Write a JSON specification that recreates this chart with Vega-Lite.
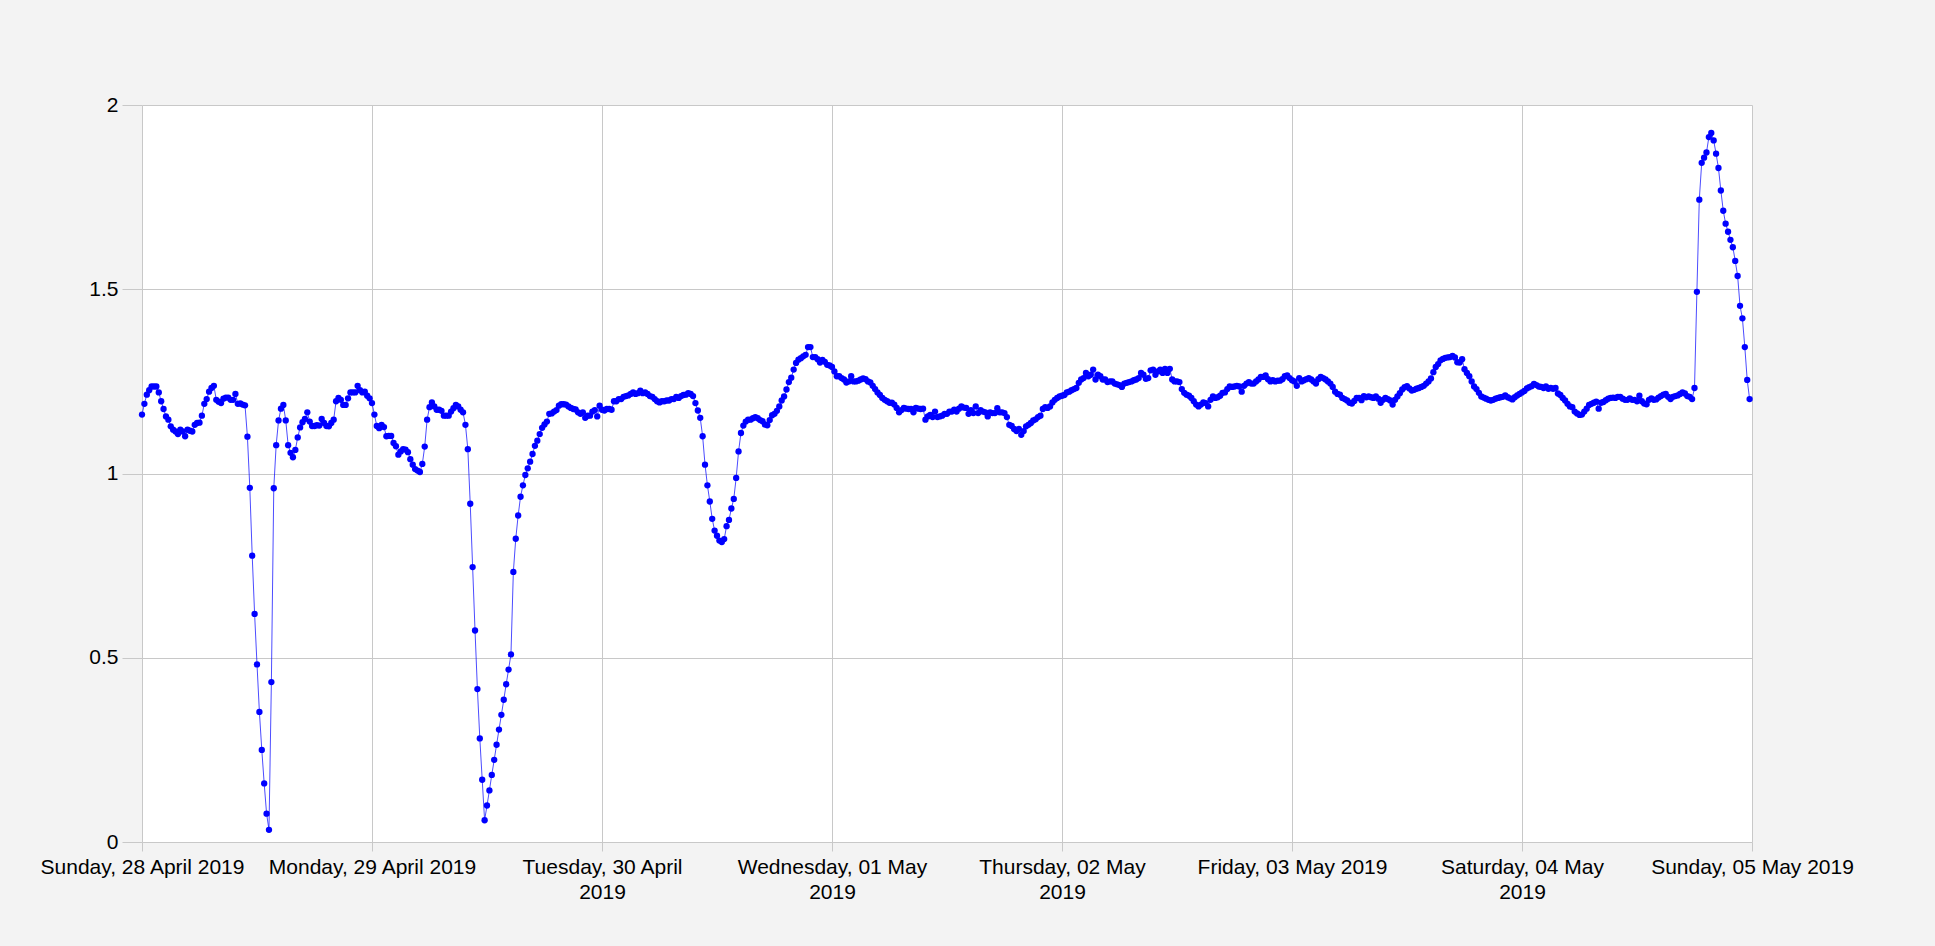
{
"$schema": "https://vega.github.io/schema/vega-lite/v6.json",
"width": 1610, "height": 737,
"autosize": {"type": "none"},
"padding": {"left": 142, "top": 105, "right": 183, "bottom": 104},
"background": "#f3f3f3",
"config": {"view": {"fill": "#ffffff", "stroke": null}, "font": "Liberation Sans"},
"data": {"values": [
{"t":"2019-04-28T00:00","v":1.16},{"t":"2019-04-28T00:15","v":1.189},{"t":"2019-04-28T00:30","v":1.214},{"t":"2019-04-28T00:45","v":1.226},
{"t":"2019-04-28T01:00","v":1.236},{"t":"2019-04-28T01:15","v":1.236},{"t":"2019-04-28T01:30","v":1.236},{"t":"2019-04-28T01:45","v":1.22},
{"t":"2019-04-28T02:00","v":1.196},{"t":"2019-04-28T02:15","v":1.175},{"t":"2019-04-28T02:30","v":1.155},{"t":"2019-04-28T02:45","v":1.146},
{"t":"2019-04-28T03:00","v":1.128},{"t":"2019-04-28T03:15","v":1.119},{"t":"2019-04-28T03:30","v":1.114},{"t":"2019-04-28T03:45","v":1.107},
{"t":"2019-04-28T04:00","v":1.119},{"t":"2019-04-28T04:15","v":1.114},{"t":"2019-04-28T04:30","v":1.101},{"t":"2019-04-28T04:45","v":1.119},
{"t":"2019-04-28T05:00","v":1.116},{"t":"2019-04-28T05:15","v":1.114},{"t":"2019-04-28T05:30","v":1.132},{"t":"2019-04-28T05:45","v":1.137},
{"t":"2019-04-28T06:00","v":1.138},{"t":"2019-04-28T06:15","v":1.157},{"t":"2019-04-28T06:30","v":1.189},{"t":"2019-04-28T06:45","v":1.202},
{"t":"2019-04-28T07:00","v":1.222},{"t":"2019-04-28T07:15","v":1.232},{"t":"2019-04-28T07:30","v":1.238},{"t":"2019-04-28T07:45","v":1.2},
{"t":"2019-04-28T08:00","v":1.195},{"t":"2019-04-28T08:15","v":1.191},{"t":"2019-04-28T08:30","v":1.203},{"t":"2019-04-28T08:45","v":1.206},
{"t":"2019-04-28T09:00","v":1.206},{"t":"2019-04-28T09:15","v":1.2},{"t":"2019-04-28T09:30","v":1.2},{"t":"2019-04-28T09:45","v":1.216},
{"t":"2019-04-28T10:00","v":1.189},{"t":"2019-04-28T10:15","v":1.19},{"t":"2019-04-28T10:30","v":1.187},{"t":"2019-04-28T10:45","v":1.185},
{"t":"2019-04-28T11:00","v":1.1},{"t":"2019-04-28T11:15","v":0.961},{"t":"2019-04-28T11:30","v":0.777},{"t":"2019-04-28T11:45","v":0.619},
{"t":"2019-04-28T12:00","v":0.482},{"t":"2019-04-28T12:15","v":0.353},{"t":"2019-04-28T12:30","v":0.25},{"t":"2019-04-28T12:45","v":0.159},
{"t":"2019-04-28T13:00","v":0.077},{"t":"2019-04-28T13:15","v":0.033},{"t":"2019-04-28T13:30","v":0.434},{"t":"2019-04-28T13:45","v":0.96},
{"t":"2019-04-28T14:00","v":1.077},{"t":"2019-04-28T14:15","v":1.144},{"t":"2019-04-28T14:30","v":1.176},{"t":"2019-04-28T14:45","v":1.186},
{"t":"2019-04-28T15:00","v":1.144},{"t":"2019-04-28T15:15","v":1.077},{"t":"2019-04-28T15:30","v":1.056},{"t":"2019-04-28T15:45","v":1.044},
{"t":"2019-04-28T16:00","v":1.064},{"t":"2019-04-28T16:15","v":1.098},{"t":"2019-04-28T16:30","v":1.125},{"t":"2019-04-28T16:45","v":1.139},
{"t":"2019-04-28T17:00","v":1.148},{"t":"2019-04-28T17:15","v":1.166},{"t":"2019-04-28T17:30","v":1.141},{"t":"2019-04-28T17:45","v":1.129},
{"t":"2019-04-28T18:00","v":1.129},{"t":"2019-04-28T18:15","v":1.131},{"t":"2019-04-28T18:30","v":1.13},{"t":"2019-04-28T18:45","v":1.148},
{"t":"2019-04-28T19:00","v":1.137},{"t":"2019-04-28T19:15","v":1.129},{"t":"2019-04-28T19:30","v":1.128},{"t":"2019-04-28T19:45","v":1.137},
{"t":"2019-04-28T20:00","v":1.146},{"t":"2019-04-28T20:15","v":1.196},{"t":"2019-04-28T20:30","v":1.205},{"t":"2019-04-28T20:45","v":1.2},
{"t":"2019-04-28T21:00","v":1.186},{"t":"2019-04-28T21:15","v":1.186},{"t":"2019-04-28T21:30","v":1.204},{"t":"2019-04-28T21:45","v":1.22},
{"t":"2019-04-28T22:00","v":1.22},{"t":"2019-04-28T22:15","v":1.22},{"t":"2019-04-28T22:30","v":1.238},{"t":"2019-04-28T22:45","v":1.226},
{"t":"2019-04-28T23:00","v":1.22},{"t":"2019-04-28T23:15","v":1.222},{"t":"2019-04-28T23:30","v":1.211},{"t":"2019-04-28T23:45","v":1.204},
{"t":"2019-04-29T00:00","v":1.191},{"t":"2019-04-29T00:15","v":1.16},{"t":"2019-04-29T00:30","v":1.129},{"t":"2019-04-29T00:45","v":1.123},
{"t":"2019-04-29T01:00","v":1.132},{"t":"2019-04-29T01:15","v":1.126},{"t":"2019-04-29T01:30","v":1.101},{"t":"2019-04-29T01:45","v":1.102},
{"t":"2019-04-29T02:00","v":1.102},{"t":"2019-04-29T02:15","v":1.083},{"t":"2019-04-29T02:30","v":1.074},{"t":"2019-04-29T02:45","v":1.051},
{"t":"2019-04-29T03:00","v":1.06},{"t":"2019-04-29T03:15","v":1.066},{"t":"2019-04-29T03:30","v":1.065},{"t":"2019-04-29T03:45","v":1.058},
{"t":"2019-04-29T04:00","v":1.039},{"t":"2019-04-29T04:15","v":1.024},{"t":"2019-04-29T04:30","v":1.012},{"t":"2019-04-29T04:45","v":1.008},
{"t":"2019-04-29T05:00","v":1.004},{"t":"2019-04-29T05:15","v":1.026},{"t":"2019-04-29T05:30","v":1.073},{"t":"2019-04-29T05:45","v":1.146},
{"t":"2019-04-29T06:00","v":1.18},{"t":"2019-04-29T06:15","v":1.193},{"t":"2019-04-29T06:30","v":1.182},{"t":"2019-04-29T06:45","v":1.173},
{"t":"2019-04-29T07:00","v":1.173},{"t":"2019-04-29T07:15","v":1.17},{"t":"2019-04-29T07:30","v":1.157},{"t":"2019-04-29T07:45","v":1.157},
{"t":"2019-04-29T08:00","v":1.157},{"t":"2019-04-29T08:15","v":1.168},{"t":"2019-04-29T08:30","v":1.177},{"t":"2019-04-29T08:45","v":1.186},
{"t":"2019-04-29T09:00","v":1.182},{"t":"2019-04-29T09:15","v":1.173},{"t":"2019-04-29T09:30","v":1.166},{"t":"2019-04-29T09:45","v":1.132},
{"t":"2019-04-29T10:00","v":1.066},{"t":"2019-04-29T10:15","v":0.918},{"t":"2019-04-29T10:30","v":0.746},{"t":"2019-04-29T10:45","v":0.574},
{"t":"2019-04-29T11:00","v":0.415},{"t":"2019-04-29T11:15","v":0.281},{"t":"2019-04-29T11:30","v":0.169},{"t":"2019-04-29T11:45","v":0.059},
{"t":"2019-04-29T12:00","v":0.099},{"t":"2019-04-29T12:15","v":0.14},{"t":"2019-04-29T12:30","v":0.182},{"t":"2019-04-29T12:45","v":0.223},
{"t":"2019-04-29T13:00","v":0.264},{"t":"2019-04-29T13:15","v":0.305},{"t":"2019-04-29T13:30","v":0.345},{"t":"2019-04-29T13:45","v":0.386},
{"t":"2019-04-29T14:00","v":0.428},{"t":"2019-04-29T14:15","v":0.468},{"t":"2019-04-29T14:30","v":0.509},{"t":"2019-04-29T14:45","v":0.733},
{"t":"2019-04-29T15:00","v":0.823},{"t":"2019-04-29T15:15","v":0.886},{"t":"2019-04-29T15:30","v":0.937},{"t":"2019-04-29T15:45","v":0.968},
{"t":"2019-04-29T16:00","v":0.996},{"t":"2019-04-29T16:15","v":1.014},{"t":"2019-04-29T16:30","v":1.032},{"t":"2019-04-29T16:45","v":1.053},
{"t":"2019-04-29T17:00","v":1.075},{"t":"2019-04-29T17:15","v":1.089},{"t":"2019-04-29T17:30","v":1.107},{"t":"2019-04-29T17:45","v":1.124},
{"t":"2019-04-29T18:00","v":1.133},{"t":"2019-04-29T18:15","v":1.141},{"t":"2019-04-29T18:30","v":1.162},{"t":"2019-04-29T18:45","v":1.163},
{"t":"2019-04-29T19:00","v":1.168},{"t":"2019-04-29T19:15","v":1.172},{"t":"2019-04-29T19:30","v":1.184},{"t":"2019-04-29T19:45","v":1.188},
{"t":"2019-04-29T20:00","v":1.188},{"t":"2019-04-29T20:15","v":1.187},{"t":"2019-04-29T20:30","v":1.182},{"t":"2019-04-29T20:45","v":1.178},
{"t":"2019-04-29T21:00","v":1.175},{"t":"2019-04-29T21:15","v":1.174},{"t":"2019-04-29T21:30","v":1.166},{"t":"2019-04-29T21:45","v":1.162},
{"t":"2019-04-29T22:00","v":1.166},{"t":"2019-04-29T22:15","v":1.151},{"t":"2019-04-29T22:30","v":1.157},{"t":"2019-04-29T22:45","v":1.157},
{"t":"2019-04-29T23:00","v":1.168},{"t":"2019-04-29T23:15","v":1.172},{"t":"2019-04-29T23:30","v":1.155},{"t":"2019-04-29T23:45","v":1.184},
{"t":"2019-04-30T00:00","v":1.173},{"t":"2019-04-30T00:15","v":1.171},{"t":"2019-04-30T00:30","v":1.175},{"t":"2019-04-30T00:45","v":1.175},
{"t":"2019-04-30T01:00","v":1.173},{"t":"2019-04-30T01:15","v":1.196},{"t":"2019-04-30T01:30","v":1.196},{"t":"2019-04-30T01:45","v":1.202},
{"t":"2019-04-30T02:00","v":1.202},{"t":"2019-04-30T02:15","v":1.208},{"t":"2019-04-30T02:30","v":1.21},{"t":"2019-04-30T02:45","v":1.212},
{"t":"2019-04-30T03:00","v":1.216},{"t":"2019-04-30T03:15","v":1.22},{"t":"2019-04-30T03:30","v":1.216},{"t":"2019-04-30T03:45","v":1.218},
{"t":"2019-04-30T04:00","v":1.225},{"t":"2019-04-30T04:15","v":1.218},{"t":"2019-04-30T04:30","v":1.22},{"t":"2019-04-30T04:45","v":1.216},
{"t":"2019-04-30T05:00","v":1.21},{"t":"2019-04-30T05:15","v":1.208},{"t":"2019-04-30T05:30","v":1.202},{"t":"2019-04-30T05:45","v":1.196},
{"t":"2019-04-30T06:00","v":1.193},{"t":"2019-04-30T06:15","v":1.196},{"t":"2019-04-30T06:30","v":1.196},{"t":"2019-04-30T06:45","v":1.198},
{"t":"2019-04-30T07:00","v":1.198},{"t":"2019-04-30T07:15","v":1.202},{"t":"2019-04-30T07:30","v":1.202},{"t":"2019-04-30T07:45","v":1.208},
{"t":"2019-04-30T08:00","v":1.205},{"t":"2019-04-30T08:15","v":1.21},{"t":"2019-04-30T08:30","v":1.213},{"t":"2019-04-30T08:45","v":1.214},
{"t":"2019-04-30T09:00","v":1.218},{"t":"2019-04-30T09:15","v":1.216},{"t":"2019-04-30T09:30","v":1.21},{"t":"2019-04-30T09:45","v":1.191},
{"t":"2019-04-30T10:00","v":1.171},{"t":"2019-04-30T10:15","v":1.151},{"t":"2019-04-30T10:30","v":1.101},{"t":"2019-04-30T10:45","v":1.024},
{"t":"2019-04-30T11:00","v":0.968},{"t":"2019-04-30T11:15","v":0.924},{"t":"2019-04-30T11:30","v":0.877},{"t":"2019-04-30T11:45","v":0.845},
{"t":"2019-04-30T12:00","v":0.831},{"t":"2019-04-30T12:15","v":0.818},{"t":"2019-04-30T12:30","v":0.814},{"t":"2019-04-30T12:45","v":0.822},
{"t":"2019-04-30T13:00","v":0.857},{"t":"2019-04-30T13:15","v":0.874},{"t":"2019-04-30T13:30","v":0.905},{"t":"2019-04-30T13:45","v":0.931},
{"t":"2019-04-30T14:00","v":0.988},{"t":"2019-04-30T14:15","v":1.06},{"t":"2019-04-30T14:30","v":1.11},{"t":"2019-04-30T14:45","v":1.13},
{"t":"2019-04-30T15:00","v":1.141},{"t":"2019-04-30T15:15","v":1.146},{"t":"2019-04-30T15:30","v":1.146},{"t":"2019-04-30T15:45","v":1.15},
{"t":"2019-04-30T16:00","v":1.153},{"t":"2019-04-30T16:15","v":1.15},{"t":"2019-04-30T16:30","v":1.145},{"t":"2019-04-30T16:45","v":1.142},
{"t":"2019-04-30T17:00","v":1.133},{"t":"2019-04-30T17:15","v":1.131},{"t":"2019-04-30T17:30","v":1.145},{"t":"2019-04-30T17:45","v":1.158},
{"t":"2019-04-30T18:00","v":1.162},{"t":"2019-04-30T18:15","v":1.17},{"t":"2019-04-30T18:30","v":1.182},{"t":"2019-04-30T18:45","v":1.198},
{"t":"2019-04-30T19:00","v":1.209},{"t":"2019-04-30T19:15","v":1.228},{"t":"2019-04-30T19:30","v":1.248},{"t":"2019-04-30T19:45","v":1.26},
{"t":"2019-04-30T20:00","v":1.282},{"t":"2019-04-30T20:15","v":1.3},{"t":"2019-04-30T20:30","v":1.309},{"t":"2019-04-30T20:45","v":1.313},
{"t":"2019-04-30T21:00","v":1.318},{"t":"2019-04-30T21:15","v":1.322},{"t":"2019-04-30T21:30","v":1.343},{"t":"2019-04-30T21:45","v":1.343},
{"t":"2019-04-30T22:00","v":1.316},{"t":"2019-04-30T22:15","v":1.316},{"t":"2019-04-30T22:30","v":1.31},{"t":"2019-04-30T22:45","v":1.301},
{"t":"2019-04-30T23:00","v":1.308},{"t":"2019-04-30T23:15","v":1.303},{"t":"2019-04-30T23:30","v":1.295},{"t":"2019-04-30T23:45","v":1.293},
{"t":"2019-05-01T00:00","v":1.289},{"t":"2019-05-01T00:15","v":1.277},{"t":"2019-05-01T00:30","v":1.264},{"t":"2019-05-01T00:45","v":1.264},
{"t":"2019-05-01T01:00","v":1.259},{"t":"2019-05-01T01:15","v":1.255},{"t":"2019-05-01T01:30","v":1.247},{"t":"2019-05-01T01:45","v":1.25},
{"t":"2019-05-01T02:00","v":1.264},{"t":"2019-05-01T02:15","v":1.25},{"t":"2019-05-01T02:30","v":1.25},{"t":"2019-05-01T02:45","v":1.252},
{"t":"2019-05-01T03:00","v":1.255},{"t":"2019-05-01T03:15","v":1.258},{"t":"2019-05-01T03:30","v":1.256},{"t":"2019-05-01T03:45","v":1.25},
{"t":"2019-05-01T04:00","v":1.247},{"t":"2019-05-01T04:15","v":1.238},{"t":"2019-05-01T04:30","v":1.229},{"t":"2019-05-01T04:45","v":1.22},
{"t":"2019-05-01T05:00","v":1.213},{"t":"2019-05-01T05:15","v":1.205},{"t":"2019-05-01T05:30","v":1.2},{"t":"2019-05-01T05:45","v":1.196},
{"t":"2019-05-01T06:00","v":1.192},{"t":"2019-05-01T06:15","v":1.192},{"t":"2019-05-01T06:30","v":1.187},{"t":"2019-05-01T06:45","v":1.178},
{"t":"2019-05-01T07:00","v":1.166},{"t":"2019-05-01T07:15","v":1.172},{"t":"2019-05-01T07:30","v":1.178},{"t":"2019-05-01T07:45","v":1.176},
{"t":"2019-05-01T08:00","v":1.175},{"t":"2019-05-01T08:15","v":1.175},{"t":"2019-05-01T08:30","v":1.166},{"t":"2019-05-01T08:45","v":1.178},
{"t":"2019-05-01T09:00","v":1.176},{"t":"2019-05-01T09:15","v":1.175},{"t":"2019-05-01T09:30","v":1.176},{"t":"2019-05-01T09:45","v":1.146},
{"t":"2019-05-01T10:00","v":1.155},{"t":"2019-05-01T10:15","v":1.159},{"t":"2019-05-01T10:30","v":1.153},{"t":"2019-05-01T10:45","v":1.168},
{"t":"2019-05-01T11:00","v":1.153},{"t":"2019-05-01T11:15","v":1.155},{"t":"2019-05-01T11:30","v":1.157},{"t":"2019-05-01T11:45","v":1.162},
{"t":"2019-05-01T12:00","v":1.162},{"t":"2019-05-01T12:15","v":1.168},{"t":"2019-05-01T12:30","v":1.168},{"t":"2019-05-01T12:45","v":1.173},
{"t":"2019-05-01T13:00","v":1.168},{"t":"2019-05-01T13:15","v":1.176},{"t":"2019-05-01T13:30","v":1.182},{"t":"2019-05-01T13:45","v":1.179},
{"t":"2019-05-01T14:00","v":1.178},{"t":"2019-05-01T14:15","v":1.162},{"t":"2019-05-01T14:30","v":1.172},{"t":"2019-05-01T14:45","v":1.164},
{"t":"2019-05-01T15:00","v":1.182},{"t":"2019-05-01T15:15","v":1.164},{"t":"2019-05-01T15:30","v":1.172},{"t":"2019-05-01T15:45","v":1.168},
{"t":"2019-05-01T16:00","v":1.166},{"t":"2019-05-01T16:15","v":1.155},{"t":"2019-05-01T16:30","v":1.166},{"t":"2019-05-01T16:45","v":1.164},
{"t":"2019-05-01T17:00","v":1.164},{"t":"2019-05-01T17:15","v":1.177},{"t":"2019-05-01T17:30","v":1.166},{"t":"2019-05-01T17:45","v":1.166},
{"t":"2019-05-01T18:00","v":1.164},{"t":"2019-05-01T18:15","v":1.153},{"t":"2019-05-01T18:30","v":1.132},{"t":"2019-05-01T18:45","v":1.129},
{"t":"2019-05-01T19:00","v":1.121},{"t":"2019-05-01T19:15","v":1.115},{"t":"2019-05-01T19:30","v":1.121},{"t":"2019-05-01T19:45","v":1.105},
{"t":"2019-05-01T20:00","v":1.115},{"t":"2019-05-01T20:15","v":1.128},{"t":"2019-05-01T20:30","v":1.132},{"t":"2019-05-01T20:45","v":1.137},
{"t":"2019-05-01T21:00","v":1.144},{"t":"2019-05-01T21:15","v":1.147},{"t":"2019-05-01T21:30","v":1.153},{"t":"2019-05-01T21:45","v":1.157},
{"t":"2019-05-01T22:00","v":1.175},{"t":"2019-05-01T22:15","v":1.18},{"t":"2019-05-01T22:30","v":1.178},{"t":"2019-05-01T22:45","v":1.182},
{"t":"2019-05-01T23:00","v":1.193},{"t":"2019-05-01T23:15","v":1.2},{"t":"2019-05-01T23:30","v":1.205},{"t":"2019-05-01T23:45","v":1.209},
{"t":"2019-05-02T00:00","v":1.211},{"t":"2019-05-02T00:15","v":1.213},{"t":"2019-05-02T00:30","v":1.22},{"t":"2019-05-02T00:45","v":1.222},
{"t":"2019-05-02T01:00","v":1.226},{"t":"2019-05-02T01:15","v":1.229},{"t":"2019-05-02T01:30","v":1.232},{"t":"2019-05-02T01:45","v":1.246},
{"t":"2019-05-02T02:00","v":1.255},{"t":"2019-05-02T02:15","v":1.259},{"t":"2019-05-02T02:30","v":1.273},{"t":"2019-05-02T02:45","v":1.264},
{"t":"2019-05-02T03:00","v":1.268},{"t":"2019-05-02T03:15","v":1.282},{"t":"2019-05-02T03:30","v":1.255},{"t":"2019-05-02T03:45","v":1.268},
{"t":"2019-05-02T04:00","v":1.264},{"t":"2019-05-02T04:15","v":1.255},{"t":"2019-05-02T04:30","v":1.255},{"t":"2019-05-02T04:45","v":1.248},
{"t":"2019-05-02T05:00","v":1.25},{"t":"2019-05-02T05:15","v":1.25},{"t":"2019-05-02T05:30","v":1.244},{"t":"2019-05-02T05:45","v":1.242},
{"t":"2019-05-02T06:00","v":1.24},{"t":"2019-05-02T06:15","v":1.235},{"t":"2019-05-02T06:30","v":1.244},{"t":"2019-05-02T06:45","v":1.246},
{"t":"2019-05-02T07:00","v":1.248},{"t":"2019-05-02T07:15","v":1.25},{"t":"2019-05-02T07:30","v":1.253},{"t":"2019-05-02T07:45","v":1.255},
{"t":"2019-05-02T08:00","v":1.259},{"t":"2019-05-02T08:15","v":1.273},{"t":"2019-05-02T08:30","v":1.268},{"t":"2019-05-02T08:45","v":1.257},
{"t":"2019-05-02T09:00","v":1.259},{"t":"2019-05-02T09:15","v":1.28},{"t":"2019-05-02T09:30","v":1.282},{"t":"2019-05-02T09:45","v":1.268},
{"t":"2019-05-02T10:00","v":1.277},{"t":"2019-05-02T10:15","v":1.282},{"t":"2019-05-02T10:30","v":1.273},{"t":"2019-05-02T10:45","v":1.284},
{"t":"2019-05-02T11:00","v":1.273},{"t":"2019-05-02T11:15","v":1.284},{"t":"2019-05-02T11:30","v":1.255},{"t":"2019-05-02T11:45","v":1.25},
{"t":"2019-05-02T12:00","v":1.25},{"t":"2019-05-02T12:15","v":1.248},{"t":"2019-05-02T12:30","v":1.229},{"t":"2019-05-02T12:45","v":1.219},
{"t":"2019-05-02T13:00","v":1.214},{"t":"2019-05-02T13:15","v":1.211},{"t":"2019-05-02T13:30","v":1.205},{"t":"2019-05-02T13:45","v":1.196},
{"t":"2019-05-02T14:00","v":1.187},{"t":"2019-05-02T14:15","v":1.182},{"t":"2019-05-02T14:30","v":1.187},{"t":"2019-05-02T14:45","v":1.193},
{"t":"2019-05-02T15:00","v":1.191},{"t":"2019-05-02T15:15","v":1.182},{"t":"2019-05-02T15:30","v":1.2},{"t":"2019-05-02T15:45","v":1.209},
{"t":"2019-05-02T16:00","v":1.205},{"t":"2019-05-02T16:15","v":1.207},{"t":"2019-05-02T16:30","v":1.211},{"t":"2019-05-02T16:45","v":1.219},
{"t":"2019-05-02T17:00","v":1.22},{"t":"2019-05-02T17:15","v":1.229},{"t":"2019-05-02T17:30","v":1.236},{"t":"2019-05-02T17:45","v":1.235},
{"t":"2019-05-02T18:00","v":1.236},{"t":"2019-05-02T18:15","v":1.238},{"t":"2019-05-02T18:30","v":1.236},{"t":"2019-05-02T18:45","v":1.222},
{"t":"2019-05-02T19:00","v":1.238},{"t":"2019-05-02T19:15","v":1.244},{"t":"2019-05-02T19:30","v":1.248},{"t":"2019-05-02T19:45","v":1.244},
{"t":"2019-05-02T20:00","v":1.244},{"t":"2019-05-02T20:15","v":1.25},{"t":"2019-05-02T20:30","v":1.255},{"t":"2019-05-02T20:45","v":1.262},
{"t":"2019-05-02T21:00","v":1.262},{"t":"2019-05-02T21:15","v":1.266},{"t":"2019-05-02T21:30","v":1.256},{"t":"2019-05-02T21:45","v":1.25},
{"t":"2019-05-02T22:00","v":1.253},{"t":"2019-05-02T22:15","v":1.25},{"t":"2019-05-02T22:30","v":1.252},{"t":"2019-05-02T22:45","v":1.252},
{"t":"2019-05-02T23:00","v":1.256},{"t":"2019-05-02T23:15","v":1.264},{"t":"2019-05-02T23:30","v":1.266},{"t":"2019-05-02T23:45","v":1.259},
{"t":"2019-05-03T00:00","v":1.253},{"t":"2019-05-03T00:15","v":1.25},{"t":"2019-05-03T00:30","v":1.238},{"t":"2019-05-03T00:45","v":1.259},
{"t":"2019-05-03T01:00","v":1.25},{"t":"2019-05-03T01:15","v":1.253},{"t":"2019-05-03T01:30","v":1.256},{"t":"2019-05-03T01:45","v":1.259},
{"t":"2019-05-03T02:00","v":1.255},{"t":"2019-05-03T02:15","v":1.25},{"t":"2019-05-03T02:30","v":1.244},{"t":"2019-05-03T02:45","v":1.256},
{"t":"2019-05-03T03:00","v":1.262},{"t":"2019-05-03T03:15","v":1.259},{"t":"2019-05-03T03:30","v":1.255},{"t":"2019-05-03T03:45","v":1.25},
{"t":"2019-05-03T04:00","v":1.244},{"t":"2019-05-03T04:15","v":1.235},{"t":"2019-05-03T04:30","v":1.222},{"t":"2019-05-03T04:45","v":1.216},
{"t":"2019-05-03T05:00","v":1.214},{"t":"2019-05-03T05:15","v":1.205},{"t":"2019-05-03T05:30","v":1.202},{"t":"2019-05-03T05:45","v":1.198},
{"t":"2019-05-03T06:00","v":1.192},{"t":"2019-05-03T06:15","v":1.19},{"t":"2019-05-03T06:30","v":1.197},{"t":"2019-05-03T06:45","v":1.205},
{"t":"2019-05-03T07:00","v":1.205},{"t":"2019-05-03T07:15","v":1.199},{"t":"2019-05-03T07:30","v":1.21},{"t":"2019-05-03T07:45","v":1.207},
{"t":"2019-05-03T08:00","v":1.209},{"t":"2019-05-03T08:15","v":1.207},{"t":"2019-05-03T08:30","v":1.205},{"t":"2019-05-03T08:45","v":1.209},
{"t":"2019-05-03T09:00","v":1.203},{"t":"2019-05-03T09:15","v":1.192},{"t":"2019-05-03T09:30","v":1.2},{"t":"2019-05-03T09:45","v":1.205},
{"t":"2019-05-03T10:00","v":1.202},{"t":"2019-05-03T10:15","v":1.198},{"t":"2019-05-03T10:30","v":1.187},{"t":"2019-05-03T10:45","v":1.2},
{"t":"2019-05-03T11:00","v":1.209},{"t":"2019-05-03T11:15","v":1.218},{"t":"2019-05-03T11:30","v":1.228},{"t":"2019-05-03T11:45","v":1.234},
{"t":"2019-05-03T12:00","v":1.237},{"t":"2019-05-03T12:15","v":1.231},{"t":"2019-05-03T12:30","v":1.225},{"t":"2019-05-03T12:45","v":1.227},
{"t":"2019-05-03T13:00","v":1.23},{"t":"2019-05-03T13:15","v":1.232},{"t":"2019-05-03T13:30","v":1.235},{"t":"2019-05-03T13:45","v":1.238},
{"t":"2019-05-03T14:00","v":1.244},{"t":"2019-05-03T14:15","v":1.25},{"t":"2019-05-03T14:30","v":1.258},{"t":"2019-05-03T14:45","v":1.275},
{"t":"2019-05-03T15:00","v":1.289},{"t":"2019-05-03T15:15","v":1.297},{"t":"2019-05-03T15:30","v":1.307},{"t":"2019-05-03T15:45","v":1.311},
{"t":"2019-05-03T16:00","v":1.314},{"t":"2019-05-03T16:15","v":1.315},{"t":"2019-05-03T16:30","v":1.316},{"t":"2019-05-03T16:45","v":1.319},
{"t":"2019-05-03T17:00","v":1.315},{"t":"2019-05-03T17:15","v":1.302},{"t":"2019-05-03T17:30","v":1.301},{"t":"2019-05-03T17:45","v":1.31},
{"t":"2019-05-03T18:00","v":1.283},{"t":"2019-05-03T18:15","v":1.273},{"t":"2019-05-03T18:30","v":1.264},{"t":"2019-05-03T18:45","v":1.25},
{"t":"2019-05-03T19:00","v":1.236},{"t":"2019-05-03T19:15","v":1.229},{"t":"2019-05-03T19:30","v":1.219},{"t":"2019-05-03T19:45","v":1.209},
{"t":"2019-05-03T20:00","v":1.206},{"t":"2019-05-03T20:15","v":1.203},{"t":"2019-05-03T20:30","v":1.2},{"t":"2019-05-03T20:45","v":1.198},
{"t":"2019-05-03T21:00","v":1.2},{"t":"2019-05-03T21:15","v":1.203},{"t":"2019-05-03T21:30","v":1.205},{"t":"2019-05-03T21:45","v":1.207},
{"t":"2019-05-03T22:00","v":1.208},{"t":"2019-05-03T22:15","v":1.212},{"t":"2019-05-03T22:30","v":1.207},{"t":"2019-05-03T22:45","v":1.204},
{"t":"2019-05-03T23:00","v":1.201},{"t":"2019-05-03T23:15","v":1.207},{"t":"2019-05-03T23:30","v":1.212},{"t":"2019-05-03T23:45","v":1.216},
{"t":"2019-05-04T00:00","v":1.22},{"t":"2019-05-04T00:15","v":1.224},{"t":"2019-05-04T00:30","v":1.231},{"t":"2019-05-04T00:45","v":1.234},
{"t":"2019-05-04T01:00","v":1.237},{"t":"2019-05-04T01:15","v":1.243},{"t":"2019-05-04T01:30","v":1.24},{"t":"2019-05-04T01:45","v":1.236},
{"t":"2019-05-04T02:00","v":1.235},{"t":"2019-05-04T02:15","v":1.232},{"t":"2019-05-04T02:30","v":1.236},{"t":"2019-05-04T02:45","v":1.23},
{"t":"2019-05-04T03:00","v":1.232},{"t":"2019-05-04T03:15","v":1.23},{"t":"2019-05-04T03:30","v":1.232},{"t":"2019-05-04T03:45","v":1.217},
{"t":"2019-05-04T04:00","v":1.213},{"t":"2019-05-04T04:15","v":1.205},{"t":"2019-05-04T04:30","v":1.198},{"t":"2019-05-04T04:45","v":1.189},
{"t":"2019-05-04T05:00","v":1.182},{"t":"2019-05-04T05:15","v":1.18},{"t":"2019-05-04T05:30","v":1.168},{"t":"2019-05-04T05:45","v":1.163},
{"t":"2019-05-04T06:00","v":1.159},{"t":"2019-05-04T06:15","v":1.16},{"t":"2019-05-04T06:30","v":1.168},{"t":"2019-05-04T06:45","v":1.176},
{"t":"2019-05-04T07:00","v":1.186},{"t":"2019-05-04T07:15","v":1.189},{"t":"2019-05-04T07:30","v":1.192},{"t":"2019-05-04T07:45","v":1.195},
{"t":"2019-05-04T08:00","v":1.176},{"t":"2019-05-04T08:15","v":1.192},{"t":"2019-05-04T08:30","v":1.194},{"t":"2019-05-04T08:45","v":1.199},
{"t":"2019-05-04T09:00","v":1.203},{"t":"2019-05-04T09:15","v":1.205},{"t":"2019-05-04T09:30","v":1.206},{"t":"2019-05-04T09:45","v":1.205},
{"t":"2019-05-04T10:00","v":1.208},{"t":"2019-05-04T10:15","v":1.208},{"t":"2019-05-04T10:30","v":1.203},{"t":"2019-05-04T10:45","v":1.2},
{"t":"2019-05-04T11:00","v":1.2},{"t":"2019-05-04T11:15","v":1.204},{"t":"2019-05-04T11:30","v":1.2},{"t":"2019-05-04T11:45","v":1.2},
{"t":"2019-05-04T12:00","v":1.196},{"t":"2019-05-04T12:15","v":1.211},{"t":"2019-05-04T12:30","v":1.196},{"t":"2019-05-04T12:45","v":1.19},
{"t":"2019-05-04T13:00","v":1.188},{"t":"2019-05-04T13:15","v":1.2},{"t":"2019-05-04T13:30","v":1.204},{"t":"2019-05-04T13:45","v":1.2},
{"t":"2019-05-04T14:00","v":1.201},{"t":"2019-05-04T14:15","v":1.206},{"t":"2019-05-04T14:30","v":1.21},{"t":"2019-05-04T14:45","v":1.214},
{"t":"2019-05-04T15:00","v":1.216},{"t":"2019-05-04T15:15","v":1.208},{"t":"2019-05-04T15:30","v":1.202},{"t":"2019-05-04T15:45","v":1.208},
{"t":"2019-05-04T16:00","v":1.21},{"t":"2019-05-04T16:15","v":1.212},{"t":"2019-05-04T16:30","v":1.216},{"t":"2019-05-04T16:45","v":1.22},
{"t":"2019-05-04T17:00","v":1.217},{"t":"2019-05-04T17:15","v":1.21},{"t":"2019-05-04T17:30","v":1.208},{"t":"2019-05-04T17:45","v":1.202},
{"t":"2019-05-04T18:00","v":1.232},{"t":"2019-05-04T18:15","v":1.493},{"t":"2019-05-04T18:30","v":1.743},{"t":"2019-05-04T18:45","v":1.843},
{"t":"2019-05-04T19:00","v":1.857},{"t":"2019-05-04T19:15","v":1.871},{"t":"2019-05-04T19:30","v":1.913},{"t":"2019-05-04T19:45","v":1.924},
{"t":"2019-05-04T20:00","v":1.904},{"t":"2019-05-04T20:15","v":1.868},{"t":"2019-05-04T20:30","v":1.829},{"t":"2019-05-04T20:45","v":1.768},
{"t":"2019-05-04T21:00","v":1.713},{"t":"2019-05-04T21:15","v":1.678},{"t":"2019-05-04T21:30","v":1.656},{"t":"2019-05-04T21:45","v":1.634},
{"t":"2019-05-04T22:00","v":1.614},{"t":"2019-05-04T22:15","v":1.577},{"t":"2019-05-04T22:30","v":1.536},{"t":"2019-05-04T22:45","v":1.455},
{"t":"2019-05-04T23:00","v":1.421},{"t":"2019-05-04T23:15","v":1.343},{"t":"2019-05-04T23:30","v":1.254},{"t":"2019-05-04T23:45","v":1.202}
]},
"mark": {"type": "line", "color": "#0000ff", "strokeWidth": 1, "strokeOpacity": 0.7,
  "point": {"filled": true, "size": 40, "color": "#0000ff", "opacity": 1}},
"encoding": {
  "x": {"field": "t", "type": "temporal",
    "scale": {"domain": [{"year": 2019, "month": 4, "date": 28}, {"year": 2019, "month": 5, "date": 5}]},
    "axis": {"title": null,
      "values": [{"year": 2019, "month": 4, "date": 28}, {"year": 2019, "month": 4, "date": 29}, {"year": 2019, "month": 4, "date": 30}, {"year": 2019, "month": 5, "date": 1}, {"year": 2019, "month": 5, "date": 2}, {"year": 2019, "month": 5, "date": 3}, {"year": 2019, "month": 5, "date": 4}, {"year": 2019, "month": 5, "date": 5}],
      "labelExpr": "indexof([2,3,4,6], day(datum.value)) >= 0 ? [timeFormat(datum.value, '%A, %d %B'), timeFormat(datum.value, '%Y')] : timeFormat(datum.value, '%A, %d %B %Y')",
      "grid": true, "gridColor": "#c8c8c8", "gridWidth": 1, "gridOpacity": 1,
      "domain": false, "ticks": true, "tickColor": "#c8c8c8", "tickSize": 9, "tickWidth": 1,
      "labelFont": "Liberation Sans", "labelFontSize": 21, "labelColor": "#000000", "labelPadding": 5,
      "labelLineHeight": 25, "labelLimit": 0, "labelOverlap": false, "labelBound": false, "labelFlush": false, "labelAlign": "center"}},
  "y": {"field": "v", "type": "quantitative",
    "scale": {"domain": [0, 2], "nice": false, "zero": true},
    "axis": {"title": null, "values": [0, 0.5, 1, 1.5, 2], "format": "~g",
      "grid": true, "gridColor": "#c8c8c8", "gridWidth": 1, "gridOpacity": 1,
      "domain": false, "ticks": true, "tickColor": "#c8c8c8", "tickSize": 20, "tickWidth": 1,
      "labelFont": "Liberation Sans", "labelFontSize": 21, "labelColor": "#000000", "labelPadding": 4}}
}
}
